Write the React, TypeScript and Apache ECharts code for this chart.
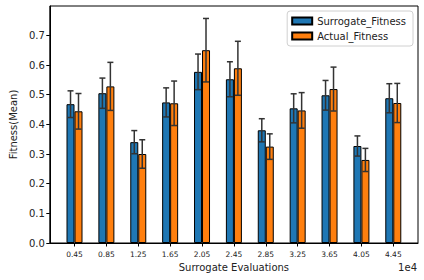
import React, { useEffect, useRef } from "react";
import * as echarts from "echarts";

const positions = [0.45, 0.85, 1.25, 1.65, 2.05, 2.45, 2.85, 3.25, 3.65, 4.05, 4.45];
const surrogateMean = [0.468, 0.505, 0.340, 0.474, 0.577, 0.552, 0.380, 0.454, 0.498, 0.327, 0.488];
const surrogateErr = [0.045, 0.051, 0.039, 0.049, 0.060, 0.059, 0.039, 0.049, 0.050, 0.034, 0.049];
const actualMean = [0.444, 0.528, 0.300, 0.471, 0.650, 0.589, 0.325, 0.447, 0.519, 0.280, 0.472];
const actualErr = [0.060, 0.081, 0.048, 0.075, 0.107, 0.091, 0.043, 0.060, 0.074, 0.039, 0.066];
const yTicks = [0, 0.1, 0.2, 0.3, 0.4, 0.5, 0.6, 0.7];

const FONT = "DejaVu Sans";
const TXT = "#222";

export default function App() {
  const ref = useRef<HTMLDivElement>(null);
  useEffect(() => {
    if (!ref.current) return;
    const chart = echarts.init(ref.current, null, { renderer: "svg" });
    const errData: number[][] = [];
    positions.forEach((x, i) => {
      errData.push([x - 0.05, surrogateMean[i], surrogateErr[i]]);
      errData.push([x + 0.05, actualMean[i], actualErr[i]]);
    });
    const option: any = {
      animation: false,
      backgroundColor: "#fff",
      textStyle: { fontFamily: FONT },
      grid: {
        left: 44,
        right: 6,
        top: 6,
        bottom: 37,
        show: true,
        borderColor: "#000",
        borderWidth: 1,
        backgroundColor: "transparent",
      },
      legend: {
        orient: "vertical",
        right: 11,
        top: 11,
        padding: [5, 7, 5, 4],
        itemWidth: 20,
        itemHeight: 7,
        itemGap: 5,
        borderColor: "#d0d0d0",
        borderWidth: 1,
        borderRadius: 3,
        backgroundColor: "#fff",
        textStyle: { fontFamily: FONT, fontSize: 10, color: TXT, padding: [0, 0, 0, 0] },
        data: ["Surrogate_Fitness", "Actual_Fitness"],
        icon: "rect",
      },
      xAxis: {
        type: "value",
        min: 0.14,
        max: 4.76,
        name: "Surrogate Evaluations",
        nameLocation: "middle",
        nameGap: 19,
        nameTextStyle: { fontFamily: FONT, fontSize: 10, color: TXT },
        axisLine: { show: true, lineStyle: { color: "#000", width: 1 } },
        axisTick: { show: true, length: 3.5, customValues: positions, lineStyle: { color: "#000" } },
        axisLabel: {
          customValues: positions,
          formatter: (v: number) => v.toFixed(2),
          fontFamily: FONT,
          fontSize: 7.5,
          color: TXT,
          margin: 7,
        },
        splitLine: { show: false },
      },
      yAxis: {
        type: "value",
        min: 0,
        max: 0.799,
        name: "Fitness(Mean)",
        nameLocation: "middle",
        nameGap: 27,
        nameTextStyle: { fontFamily: FONT, fontSize: 10, color: TXT },
        axisLine: { show: true, lineStyle: { color: "#000", width: 1 } },
        axisTick: { show: true, length: 3.5, customValues: yTicks, lineStyle: { color: "#000" } },
        axisLabel: {
          customValues: yTicks,
          formatter: (v: number) => v.toFixed(1),
          fontFamily: FONT,
          fontSize: 10,
          color: TXT,
          margin: 5,
        },
        splitLine: { show: false },
      },
      series: [
        {
          name: "Surrogate_Fitness",
          type: "bar",
          barWidth: 8,
          barGap: "0%",
          data: positions.map((x, i) => [x, surrogateMean[i]]),
          itemStyle: { color: "#1f77b4", borderColor: "#000", borderWidth: 1 },
        },
        {
          name: "Actual_Fitness",
          type: "bar",
          barWidth: 8,
          barGap: "0%",
          data: positions.map((x, i) => [x, actualMean[i]]),
          itemStyle: { color: "#ff7f0e", borderColor: "#000", borderWidth: 1 },
        },
        {
          name: "errors",
          type: "custom",
          z: 10,
          data: errData,
          renderItem: (params: any, api: any) => {
            const x = api.value(0);
            const y = api.value(1);
            const e = api.value(2);
            const top = api.coord([x, y + e]);
            const bot = api.coord([x, y - e]);
            const style = { stroke: "#333", lineWidth: 1.5 };
            return {
              type: "group",
              children: [
                { type: "line", shape: { x1: top[0], y1: top[1], x2: bot[0], y2: bot[1] }, style },
                { type: "line", shape: { x1: top[0] - 3, y1: top[1], x2: top[0] + 3, y2: top[1] }, style },
                { type: "line", shape: { x1: bot[0] - 3, y1: bot[1], x2: bot[0] + 3, y2: bot[1] }, style },
              ],
            };
          },
        },
      ],
      graphic: [
        {
          type: "text",
          right: 7,
          top: 262,
          style: { text: "1e4", fontFamily: FONT, fontSize: 10, fill: TXT },
        },
      ],
    };
    chart.setOption(option);
    return () => chart.dispose();
  }, []);
  return <div ref={ref} style={{ width: 424, height: 280, position: "absolute", left: 0, top: 0 }} />;
}
